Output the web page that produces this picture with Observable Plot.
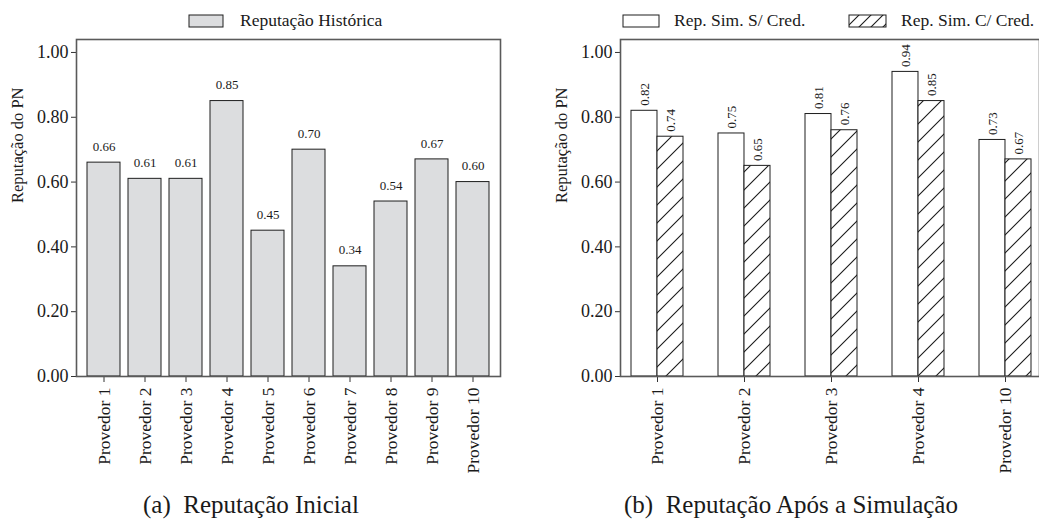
<!DOCTYPE html>
<html>
<head>
<meta charset="utf-8">
<script src="https://cdn.jsdelivr.net/npm/d3@7"></script>
<script src="https://cdn.jsdelivr.net/npm/@observablehq/plot@0.6"></script>
<style>
  body { margin: 0; background: #fff; }
  .c { font-family: 'Liberation Serif'; }
</style>
</head>
<body>
<div id="root" class="c" style="position:relative;width:1039px;height:520px;overflow:hidden;font-family:'Liberation Serif'"></div>
<script>
// ---------- data ----------
const providersA = ["Provedor 1","Provedor 2","Provedor 3","Provedor 4","Provedor 5","Provedor 6","Provedor 7","Provedor 8","Provedor 9","Provedor 10"];
const reputacaoHistorica = [0.66, 0.61, 0.61, 0.85, 0.45, 0.70, 0.34, 0.54, 0.67, 0.60];

const providersB = ["Provedor 1","Provedor 2","Provedor 3","Provedor 4","Provedor 10"];
const repSemCred = [0.82, 0.75, 0.81, 0.94, 0.73];
const repComCred = [0.74, 0.65, 0.76, 0.85, 0.67];

const yTicks = [0, 0.2, 0.4, 0.6, 0.8, 1.0];
const yLabel = "Reputação do PN";
const legendA = "Reputação Histórica";
const legendB1 = "Rep. Sim. S/ Cred.";
const legendB2 = "Rep. Sim. C/ Cred.";
const captionA = "(a)\u2002Reputação Inicial";
const captionB = "(b)\u2002Reputação Após a Simulação";

// ---------- styles ----------
const FONT = "'Liberation Serif'";
const fmt = d3.format(".2f");
const frameColor = "#5a5a5a";
const barStroke = "#1e1e1e";
const grayFill = "#dcdddf";
const ink = "#1a1a1a";

const dataA = providersA.map((p, i) => ({provider: p, value: reputacaoHistorica[i]}));
const dataB = providersB.map((p, i) => ({provider: p, sem: repSemCred[i], com: repComCred[i]}));

const root = document.getElementById("root");

function hatchDefs(id) {
  return () => {
    const defs = d3.create("svg:defs");
    const pat = defs.append("pattern")
      .attr("id", id)
      .attr("patternUnits", "userSpaceOnUse")
      .attr("width", 18).attr("height", 18);
    pat.append("rect").attr("width", 18).attr("height", 18).attr("fill", "white");
    pat.append("path")
      .attr("d", "M0,18L18,0M-4.5,4.5L4.5,-4.5M13.5,22.5L22.5,13.5")
      .attr("stroke", "#1a1a1a").attr("stroke-width", 1.1).attr("fill", "none");
    return defs.node();
  };
}

function yAxisMarks() {
  return [
    Plot.axisY({ticks: yTicks, tickFormat: fmt, tickSize: 5, tickPadding: 3, fontSize: 18, label: null, stroke: "#333", fill: ink}),
    Plot.text([yLabel], {frameAnchor: "left", text: d => d, rotate: -90, dx: -59, dy: -5, fontSize: 16.5, fill: ink})
  ];
}

// ---------- panel (a) ----------
const plotA = Plot.plot({
  width: 520,
  height: 480,
  marginTop: 39,
  marginLeft: 76,
  marginRight: 20,
  marginBottom: 104,
  style: {fontFamily: FONT, background: "transparent"},
  x: {domain: providersA, paddingInner: 0.19, paddingOuter: 0.243},
  y: {domain: [0, 1.04]},
  marks: [
    Plot.barY(dataA, {x: "provider", y: "value", fill: grayFill, stroke: barStroke, strokeWidth: 1}),
    Plot.text(dataA, {x: "provider", y: "value", text: d => fmt(d.value), dy: -16, fontSize: 13, fill: ink}),
    Plot.axisX({tickRotate: -90, tickSize: 6, tickPadding: 5, fontSize: 17.5, label: null, stroke: "#333", fill: ink}),
    ...yAxisMarks(),
    Plot.frame({stroke: frameColor, strokeWidth: 1.6})
  ]
});
plotA.style.position = "absolute"; plotA.style.left = "0px"; plotA.style.top = "0px";
root.appendChild(plotA);

// ---------- panel (b) ----------
const xRangeB = [100, 523];
const pInnerB = 0.402, pOuterB = 0.132;
const bw = d3.scaleBand(providersB, xRangeB).paddingInner(pInnerB).paddingOuter(pOuterB).bandwidth();

const plotB = Plot.plot({
  width: 519,
  height: 480,
  marginTop: 39,
  marginLeft: 100,
  marginRight: 0,
  marginBottom: 104,
  style: {fontFamily: FONT, background: "transparent"},
  x: {domain: providersB, range: xRangeB, paddingInner: pInnerB, paddingOuter: pOuterB},
  y: {domain: [0, 1.04]},
  marks: [
    hatchDefs("hatchB"),
    Plot.barY(dataB, {x: "provider", y: "sem", fill: "white", stroke: barStroke, strokeWidth: 1, insetRight: bw / 2}),
    Plot.barY(dataB, {x: "provider", y: "com", fill: "url(#hatchB)", stroke: barStroke, strokeWidth: 1, insetLeft: bw / 2}),
    Plot.text(dataB, {x: "provider", y: "sem", text: d => fmt(d.sem), rotate: -90, textAnchor: "start", dx: -bw / 4, dy: -5, fontSize: 13, fill: ink}),
    Plot.text(dataB, {x: "provider", y: "com", text: d => fmt(d.com), rotate: -90, textAnchor: "start", dx: bw / 4, dy: -5, fontSize: 13, fill: ink}),
    Plot.axisX({tickRotate: -90, tickSize: 6, tickPadding: 5, fontSize: 17.5, label: null, stroke: "#333", fill: ink}),
    ...yAxisMarks(),
    Plot.frame({stroke: frameColor, strokeWidth: 1.6})
  ]
});
plotB.style.position = "absolute"; plotB.style.left = "520px"; plotB.style.top = "0px";
root.appendChild(plotB);

// ---------- legends ----------
function swatch(x, y, w, h, fill, hatchId) {
  const s = d3.create("svg")
    .attr("width", w + 2).attr("height", h + 2)
    .style("position", "absolute")
    .style("left", (x - 1) + "px").style("top", (y - 1) + "px");
  if (hatchId) {
    const pat = s.append("defs").append("pattern").attr("id", hatchId)
      .attr("patternUnits", "userSpaceOnUse").attr("width", 12).attr("height", 12);
    pat.append("rect").attr("width", 12).attr("height", 12).attr("fill", "white");
    pat.append("path").attr("d", "M0,12L12,0M-3,3L3,-3M9,15L15,9")
      .attr("stroke", "#1a1a1a").attr("stroke-width", 1.1);
  }
  s.append("rect").attr("x", 1).attr("y", 1).attr("width", w).attr("height", h)
    .attr("fill", hatchId ? `url(#${hatchId})` : fill).attr("stroke", barStroke).attr("stroke-width", 1);
  root.appendChild(s.node());
}
function label(text, x, y, size) {
  const d = document.createElement("div");
  d.textContent = text;
  d.style.cssText = `position:absolute;left:${x}px;top:${y}px;font-family:'Liberation Serif';font-size:${size}px;line-height:1;white-space:pre;color:${ink}`;
  root.appendChild(d);
}
swatch(189, 15, 34, 12, grayFill);
label(legendA, 240, 12, 17.5);
swatch(623, 15, 36, 12, "white");
label(legendB1, 674, 12, 17.5);
swatch(849, 15, 37, 12, null, "hatchLeg");
label(legendB2, 901, 12, 17.5);

// ---------- captions ----------
label(captionA, 143, 492, 25);
label(captionB, 624, 492, 25);

// make sure every svg text uses the serif face
d3.selectAll("#root svg, #root svg g, #root svg text").style("font-family", "'Liberation Serif'");
</script>
</body>
</html>
